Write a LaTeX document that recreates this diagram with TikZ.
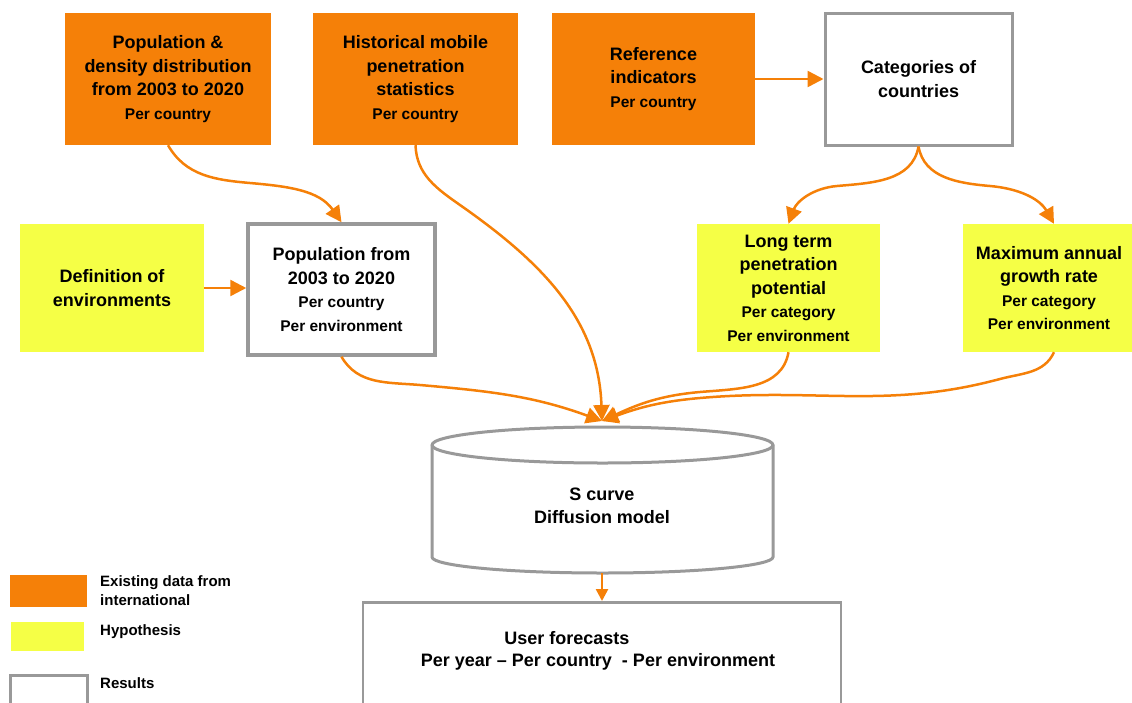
\documentclass[tikz,border=0pt]{standalone}
\usepackage{fontspec}
\setmainfont{Liberation Sans}
\usetikzlibrary{arrows.meta}
\definecolor{datorange}{RGB}{245,128,8}
\definecolor{hypyellow}{RGB}{245,255,70}
\definecolor{resgray}{RGB}{153,153,153}
\newcommand{\pertxt}[1]{{\fontsize{15.5}{23.5}\selectfont #1}}

\begin{document}
\begin{tikzpicture}[x=1pt,y=-1pt,
  box/.style={align=center,inner sep=0pt,font=\bfseries\fontsize{18}{23.5}\selectfont},
  datbox/.style={box,fill=datorange},
  hypbox/.style={box,fill=hypyellow},
  resbox/.style={box,draw=resgray,line width=3pt,fill=white},
  flow/.style={draw=datorange,line width=2.5pt,-{Triangle[length=16pt,width=16pt]}},
  legtxt/.style={anchor=west,align=left,inner sep=0pt,font=\bfseries\fontsize{15}{19}\selectfont}]

\useasboundingbox (0,0) rectangle (1132,702);

\node[datbox,minimum width=206,minimum height=132] (popdens) at (168,79) {Population \&\\density distribution\\from 2003 to 2020\\\pertxt{Per country}};
\node[datbox,minimum width=205,minimum height=132] (histmob) at (415.5,79) {Historical mobile\\penetration\\statistics\\\pertxt{Per country}};
\node[datbox,minimum width=203,minimum height=132] (refind) at (653.5,79) {Reference\\indicators\\\pertxt{Per country}};
\node[resbox,minimum width=187,minimum height=132] (catcount) at (918.5,79) {Categories of\\countries};

\node[hypbox,minimum width=184,minimum height=128] (defenv) at (112,288) {Definition of\\environments};
\node[resbox,line width=3.5pt,minimum width=187,minimum height=131] (popenv) at (341.5,289.5) {Population from\\2003 to 2020\\\pertxt{Per country}\\\pertxt{Per environment}};
\node[hypbox,minimum width=183,minimum height=128] (longterm) at (788.5,288) {Long term\\penetration\\potential\\\pertxt{Per category}\\\pertxt{Per environment}};
\node[hypbox,minimum width=172,minimum height=128] (maxgrow) at (1049,288) {Maximum annual\\growth rate\\\pertxt{Per category}\\\pertxt{Per environment}};

\draw[resgray,line width=3pt,fill=white] (432,445) arc[start angle=180,end angle=0,x radius=170.5pt,y radius=18pt] -- (773,557) arc[start angle=0,end angle=-180,x radius=170.5pt,y radius=16pt] -- cycle;
\draw[resgray,line width=3pt] (432,445) arc[start angle=180,end angle=360,x radius=170.5pt,y radius=18pt];
\node[box] (scurve) at (602,506) {S curve\\Diffusion model};
\coordinate (hub) at (602,421);
\coordinate (cylbot) at (602,573);

\node[resbox,line width=2.5pt,minimum width=478,minimum height=130,anchor=north] (fcast) at (602,601) {};
\node[box] (fcastttl) at (567,638) {User forecasts};
\node[box] (fcastper) at (598,662) {Per year -- Per country\ \ - Per environment};

\node[datbox,minimum width=77,minimum height=32] (legdat) at (48.5,591) {};
\node[hypbox,minimum width=73,minimum height=29] (leghyp) at (47.5,636.5) {};
\node[resbox,minimum width=77,minimum height=40,anchor=north] (legres) at (48.5,674) {};
\node[legtxt] (legdattxt) at (100,590.5) {Existing data from\\international};
\node[legtxt] (leghyptxt) at (100,632) {Hypothesis};
\node[legtxt] (legrestxt) at (100,683) {Results};

\draw[flow] (refind) -- (catcount);
\draw[flow] (defenv.east) -- (defenv.east -| popenv.west);
\draw[flow] (popdens.south) to[out=-60,in=175] (250,183) to[out=-5,in=125] (popenv.north);
\draw[flow] (catcount.south) to[out=-100,in=5] (837,186) to[out=185,in=70] (longterm.north);
\draw[flow] (catcount.south) to[out=-80,in=175] (990,186) to[out=-5,in=120] ([xshift=5pt]maxgrow.north);
\draw[flow] (histmob.south) to[out=-88,in=145] (460,205) to[out=-35,in=92] (hub);
\draw[flow] (popenv.south) to[out=-60,in=175] (420,385) to[out=-5,in=160] (hub);
\draw[flow] (longterm.south) to[out=-100,in=5] (700,392) to[out=185,in=25] (hub);
\draw[flow] ([xshift=5pt]maxgrow.south) to[out=-115,in=15] (1000,379) to[out=195,in=5] (700,398) to[out=185,in=20] (hub);
\draw[flow,-{Triangle[length=12pt,width=12pt]}] (cylbot) -- (fcast.north);

\end{tikzpicture}
\end{document}
